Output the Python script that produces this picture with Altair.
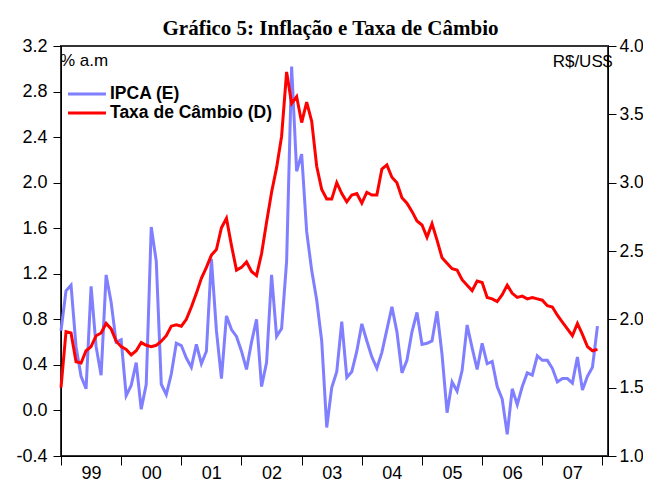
import altair as alt
import pandas as pd

# Monthly IPCA (% a.m.) and exchange rate (R$/US$), Jan 1999 - Dec 2007
ipca = [0.70, 1.05, 1.10, 0.56, 0.30, 0.19, 1.09, 0.56, 0.31, 1.19, 0.95, 0.60,
        0.62, 0.13, 0.22, 0.42, 0.01, 0.23, 1.61, 1.31, 0.23, 0.14, 0.32, 0.59,
        0.57, 0.46, 0.38, 0.58, 0.41, 0.52, 1.33, 0.70, 0.28, 0.83, 0.71, 0.65,
        0.52, 0.36, 0.60, 0.80, 0.21, 0.42, 1.19, 0.65, 0.72, 1.31, 3.02, 2.10,
        2.25, 1.57, 1.23, 0.97, 0.61, -0.15, 0.20, 0.34, 0.78, 0.29, 0.34, 0.52,
        0.76, 0.61, 0.47, 0.37, 0.51, 0.71, 0.91, 0.69, 0.33, 0.44, 0.69, 0.86,
        0.58, 0.59, 0.61, 0.87, 0.49, -0.02, 0.25, 0.17, 0.35, 0.75, 0.55, 0.36,
        0.59, 0.41, 0.43, 0.21, 0.10, -0.21, 0.19, 0.05, 0.21, 0.33, 0.31, 0.48,
        0.44, 0.44, 0.37, 0.25, 0.28, 0.28, 0.24, 0.47, 0.18, 0.30, 0.38, 0.74]

cambio = [1.50, 1.91, 1.90, 1.69, 1.68, 1.77, 1.80, 1.88, 1.90, 1.97, 1.93, 1.84,
          1.80, 1.78, 1.74, 1.77, 1.83, 1.81, 1.80, 1.81, 1.84, 1.88, 1.95, 1.96,
          1.95, 2.00, 2.09, 2.19, 2.30, 2.38, 2.47, 2.51, 2.67, 2.74, 2.54, 2.36,
          2.38, 2.42, 2.35, 2.32, 2.48, 2.71, 2.93, 3.11, 3.34, 3.81, 3.58, 3.63,
          3.44, 3.59, 3.45, 3.12, 2.95, 2.88, 2.88, 3.00, 2.92, 2.86, 2.91, 2.92,
          2.85, 2.93, 2.91, 2.91, 3.10, 3.13, 3.04, 3.00, 2.89, 2.85, 2.79, 2.72,
          2.69, 2.60, 2.70, 2.58, 2.45, 2.41, 2.37, 2.36, 2.29, 2.25, 2.21, 2.28,
          2.27, 2.16, 2.15, 2.13, 2.18, 2.25, 2.19, 2.16, 2.17, 2.15, 2.16, 2.15,
          2.14, 2.10, 2.09, 2.03, 1.98, 1.93, 1.88, 1.97, 1.89, 1.80, 1.77, 1.78]

year_labels = ["99", "00", "01", "02", "03", "04", "05", "06", "07"]
left_ticks = [-0.4, 0.0, 0.4, 0.8, 1.2, 1.6, 2.0, 2.4, 2.8, 3.2]
right_ticks = [1.0, 1.5, 2.0, 2.5, 3.0, 3.5, 4.0]
series_names = ["IPCA (E)", "Taxa de Câmbio (D)"]
series_colors = ["#7F7FFF", "#FF0000"]
title_text = "Gráfico 5: Inflação e Taxa de Câmbio"

df = pd.DataFrame({"t": list(range(len(ipca))), "ipca": ipca, "cambio": cambio,
                   "s1": series_names[0], "s2": series_names[1]})

FONT = "Liberation Sans"
year_ticks = [12 * i for i in range(len(year_labels) + 1)]
labels_js = str(year_labels + [""])
fmt_expr = ("datum.value < 0 ? '-' + format(-datum.value, '.1f') : "
            "format(datum.value, '.1f')")

x_enc = alt.X(
    "t:Q",
    scale=alt.Scale(domain=[0, 109.1], nice=False, zero=False),
    axis=alt.Axis(values=year_ticks, labelExpr=f"{labels_js}[round(datum.value/12)]",
                  labelOffset=30, tickSize=9, labelPadding=-1, labelFlush=False,
                  labelOverlap=False, title=None),
)

color_scale = alt.Scale(domain=series_names, range=series_colors)
legend = alt.Legend(title=None, orient="none", legendX=15.5, legendY=37.5,
                    symbolType="M-2.11,0H2.11", symbolSize=324, symbolStrokeWidth=3,
                    labelFont=FONT, labelFontSize=17.5, labelFontWeight="bold",
                    labelColor="black", labelOffset=12.5, rowPadding=0, padding=0,
                    labelLimit=400)

blue = alt.Chart(df).mark_line(strokeWidth=3).encode(
    x=x_enc,
    y=alt.Y("ipca:Q", scale=alt.Scale(domain=[-0.4, 3.2], nice=False, zero=False),
            axis=alt.Axis(orient="left", values=left_ticks, labelExpr=fmt_expr,
                          tickSize=8, labelPadding=6, title="% a.m", titleAngle=0,
                          titleAlign="left", titleBaseline="alphabetic",
                          titleX=-1.5, titleY=19, titleFont=FONT, titleFontSize=17,
                          titleFontWeight="normal", titleColor="black")),
    color=alt.Color("s1:N", scale=color_scale, legend=legend),
)

red = alt.Chart(df).mark_line(strokeWidth=3).encode(
    x=x_enc,
    y=alt.Y("cambio:Q", scale=alt.Scale(domain=[1.0, 4.0], nice=False, zero=False),
            axis=alt.Axis(orient="right", values=right_ticks, labelExpr=fmt_expr,
                          tickSize=8, labelPadding=3, labelFontSize=17.5,
                          title="R$/US$", titleAngle=0,
                          titleAlign="right", titleBaseline="alphabetic",
                          titleX=3.7, titleY=20.5, titleFont=FONT, titleFontSize=17,
                          titleFontWeight="normal", titleColor="black")),
    color=alt.Color("s2:N", scale=color_scale, legend=legend),
)

chart = alt.layer(blue, red).resolve_scale(y="independent").properties(
    width=547, height=410,
    title=alt.TitleParams(title_text, font="Liberation Serif", fontSize=21,
                          fontWeight="bold", color="black", anchor="middle",
                          frame="group", baseline="alphabetic", offset=2, dy=21,
                          dx=-4),
    autosize=alt.AutoSizeParams(type="none"),
    padding={"left": 53, "top": 38, "right": 35, "bottom": 27},
).configure_view(
    stroke="#333333", strokeWidth=2
).configure_axis(
    grid=False, domainColor="black", domainWidth=1, tickColor="black", tickWidth=1,
    labelFont=FONT, labelFontSize=18, labelColor="black",
)

chart.save("out.html", embed_options={"renderer": "svg", "actions": False})
